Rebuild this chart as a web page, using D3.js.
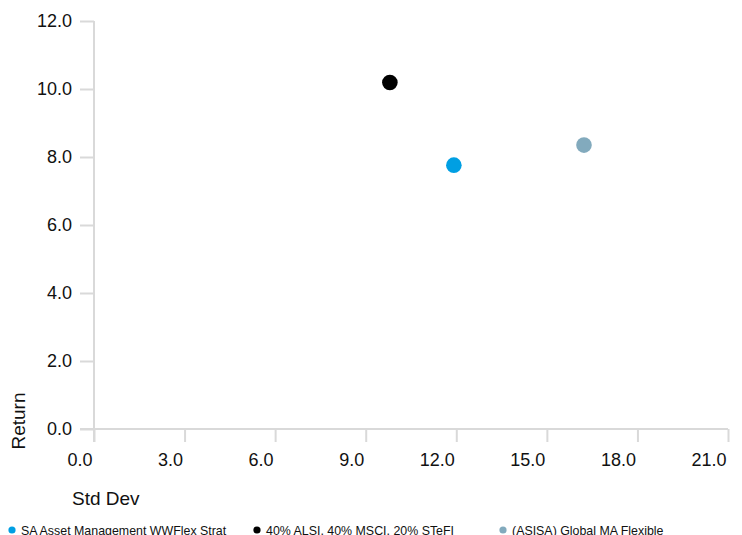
<!DOCTYPE html>
<html><head><meta charset="utf-8">
<script src="https://cdn.jsdelivr.net/npm/d3@7"></script>
<style>body{margin:0;background:#fff}svg{display:block;font-family:"Liberation Sans",Arial,sans-serif}</style>
</head><body><svg id="c" width="742" height="535"></svg>
<script>
const seriesNames = ["SA Asset Management WWFlex Strat", "40% ALSI, 40% MSCI, 20% STeFI", "(ASISA) Global MA Flexible"];
const stdDev = [11.92, 9.80, 16.23];
const returns = [7.76, 10.19, 8.35];
const colors = ["#009fe3", "#000000", "#82aabd"];
const xTicks = [0, 3, 6, 9, 12, 15, 18, 21];
const yTicks = [0, 2, 4, 6, 8, 10, 12];

const svg = d3.select("#c");
const x = d3.scaleLinear().domain([0, 21]).range([94, 728]);
const y = d3.scaleLinear().domain([0, 12]).range([429, 21]);
const grid = "#d9d9d9";

// x axis
const gx = svg.append("g").attr("transform", "translate(0,429)")
  .call(d3.axisBottom(x).tickValues(xTicks).tickFormat(d3.format(".1f")).tickSize(13).tickSizeOuter(0).tickPadding(11));
gx.select(".domain").remove();
gx.append("line").attr("x1", 80).attr("x2", 728).attr("stroke", grid).attr("stroke-width", 2);
gx.selectAll(".tick line").attr("stroke", grid).attr("stroke-width", 2);
gx.selectAll(".tick text").attr("font-size", 18).attr("fill", "#111")
  .attr("font-family", "Liberation Sans, Arial, sans-serif")
  .attr("text-anchor", "end").attr("x", -2);

// y axis
const gy = svg.append("g").attr("transform", "translate(94,0)")
  .call(d3.axisLeft(y).tickValues(yTicks).tickFormat(d3.format(".1f")).tickSize(14).tickSizeOuter(0).tickPadding(8));
gy.select(".domain").remove();
gy.append("line").attr("y1", 21).attr("y2", 442).attr("stroke", grid).attr("stroke-width", 2);
gy.selectAll(".tick line").attr("stroke", grid).attr("stroke-width", 2);
gy.selectAll(".tick text").attr("font-size", 18).attr("fill", "#111").attr("font-family", "Liberation Sans, Arial, sans-serif");

// axis titles
svg.append("text").attr("x", 72).attr("y", 505).attr("font-size", 19).attr("fill", "#111").text("Std Dev");
svg.append("text").attr("transform", "translate(25,421) rotate(-90)").attr("text-anchor", "middle")
  .attr("font-size", 19).attr("fill", "#111").text("Return");

// points
svg.append("g").selectAll("circle").data(seriesNames).join("circle")
  .attr("cx", (d, i) => x(stdDev[i])).attr("cy", (d, i) => y(returns[i]))
  .attr("r", 7.8).attr("fill", (d, i) => colors[i]);

// legend
const legX = [12, 257, 503];
const lg = svg.append("g").selectAll("g").data(seriesNames).join("g")
  .attr("transform", (d, i) => `translate(${legX[i]},530)`);
lg.append("circle").attr("r", 3.6).attr("fill", (d, i) => colors[i]);
lg.append("text").attr("x", 9).attr("y", 4.5).attr("font-size", 12.4).attr("fill", "#111").text(d => d);
</script></body></html>
